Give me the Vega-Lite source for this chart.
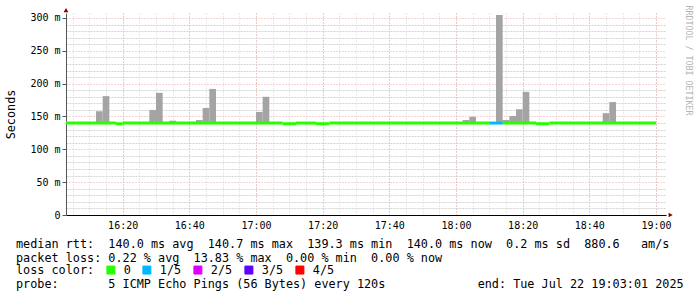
{
  "$schema": "https://vega.github.io/schema/vega-lite/v6.json",
  "width": 600,
  "height": 202,
  "autosize": {"type": "none"},
  "padding": {"left": 66, "top": 13, "right": 31, "bottom": 82},
  "background": "white",
  "config": {"view": {"stroke": null}},
  "title": {
    "text": [
      "median rtt:\u00a0 140.0 ms avg\u00a0 140.7 ms max\u00a0 139.3 ms min\u00a0 140.0 ms now\u00a0 0.2 ms sd\u00a0 880.6\u00a0\u00a0 am/s",
      "packet loss: 0.22 % avg\u00a0 13.83 % max\u00a0 0.00 % min\u00a0 0.00 % now"
    ],
    "subtitle": "probe:\u00a0\u00a0\u00a0\u00a0\u00a0\u00a0 5 ICMP Echo Pings (56 Bytes) every 120s\u00a0\u00a0\u00a0\u00a0\u00a0\u00a0\u00a0\u00a0\u00a0\u00a0\u00a0\u00a0 end: Tue Jul 22 19:03:01 2025",
    "orient": "bottom",
    "anchor": "start",
    "frame": "group",
    "dx": -50,
    "offset": -38,
    "baseline": "top",
    "font": "DejaVu Sans Mono",
    "fontSize": 11.8,
    "fontWeight": "normal",
    "lineHeight": 13.7,
    "color": "black",
    "subtitleFont": "DejaVu Sans Mono",
    "subtitleFontSize": 11.8,
    "subtitleFontWeight": "normal",
    "subtitleColor": "black",
    "subtitleLineHeight": 13.7,
    "subtitlePadding": 14
  },
  "datasets": {
    "smoke": [
      {"t0": 12, "t1": 14, "min": 139.5, "max": 158},
      {"t0": 14, "t1": 16, "min": 139.5, "max": 181},
      {"t0": 28, "t1": 30, "min": 139.5, "max": 160},
      {"t0": 30, "t1": 32, "min": 139.5, "max": 186},
      {"t0": 34, "t1": 36, "min": 139.5, "max": 143.6},
      {"t0": 42, "t1": 44, "min": 139.5, "max": 144.6},
      {"t0": 44, "t1": 46, "min": 139.5, "max": 163},
      {"t0": 46, "t1": 48, "min": 139.5, "max": 192},
      {"t0": 60, "t1": 62, "min": 139.5, "max": 157},
      {"t0": 62, "t1": 64, "min": 139.5, "max": 180},
      {"t0": 122, "t1": 124, "min": 139.5, "max": 144.6},
      {"t0": 124, "t1": 126, "min": 139.5, "max": 149.5},
      {"t0": 132, "t1": 134, "min": 139.5, "max": 304.6},
      {"t0": 134, "t1": 136, "min": 139.5, "max": 144.6},
      {"t0": 136, "t1": 138, "min": 139.5, "max": 150.7},
      {"t0": 138, "t1": 140, "min": 139.5, "max": 161},
      {"t0": 140, "t1": 142, "min": 139.5, "max": 187.5},
      {"t0": 164, "t1": 166, "min": 139.5, "max": 155},
      {"t0": 166, "t1": 168, "min": 139.5, "max": 172}
    ],
    "median": [
      {"t0": 3, "t1": 18, "rtt": 140.0, "loss": "0"},
      {"t0": 18, "t1": 20, "rtt": 139.0, "loss": "0"},
      {"t0": 20, "t1": 68, "rtt": 140.0, "loss": "0"},
      {"t0": 68, "t1": 72, "rtt": 139.0, "loss": "0"},
      {"t0": 72, "t1": 78, "rtt": 140.0, "loss": "0"},
      {"t0": 78, "t1": 82, "rtt": 139.0, "loss": "0"},
      {"t0": 82, "t1": 130, "rtt": 140.0, "loss": "0"},
      {"t0": 130, "t1": 134, "rtt": 140.0, "loss": "1/5"},
      {"t0": 134, "t1": 144, "rtt": 140.0, "loss": "0"},
      {"t0": 144, "t1": 148, "rtt": 139.0, "loss": "0"},
      {"t0": 148, "t1": 180, "rtt": 140.0, "loss": "0"}
    ]
  },
  "resolve": {"axis": {"x": "independent", "y": "independent"}},
  "layer": [
    {
      "data": {"name": "smoke"},
      "mark": {"type": "rect", "color": "#a4a4a4"},
      "encoding": {
        "x": {
          "field": "t0", "type": "quantitative",
          "scale": {"domain": [3, 183], "nice": false, "zero": false},
          "axis": {"orient": "bottom", "values": [5,10,15,20,25,30,35,40,45,50,55,60,65,70,75,80,85,90,95,100,105,110,115,120,125,130,135,140,145,150,155,160,165,170,175,180],
            "labels": false, "ticks": false, "domain": false, "title": null,
            "grid": true, "gridColor": "#d4d4d4", "gridDash": [1, 2], "gridWidth": 1}
        },
        "x2": {"field": "t1"},
        "y": {
          "field": "max", "type": "quantitative",
          "scale": {"domain": [0, 307.6], "nice": false, "zero": true},
          "axis": {"orient": "left", "values": [10,20,30,40,60,70,80,90,110,120,130,140,160,170,180,190,210,220,230,240,260,270,280,290],
            "labels": false, "ticks": false, "domain": false, "title": null,
            "grid": true, "gridColor": "#d4d4d4", "gridDash": [2, 1], "gridWidth": 1}
        },
        "y2": {"field": "min"}
      }
    },
    {
      "data": {"name": "median"},
      "mark": {"type": "rule", "strokeWidth": 3, "strokeCap": "butt"},
      "encoding": {
        "x": {
          "field": "t0", "type": "quantitative",
          "axis": {"orient": "bottom", "values": [20,40,60,80,100,120,140,160,180],
            "labels": false, "ticks": false, "domain": false, "title": null,
            "grid": true, "gridColor": "#eaa8a8", "gridDash": [1, 2], "gridWidth": 1}
        },
        "x2": {"field": "t1"},
        "y": {
          "field": "rtt", "type": "quantitative",
          "axis": {"orient": "left", "values": [50,100,150,200,250,300],
            "labels": false, "ticks": false, "domain": false, "title": null,
            "grid": true, "gridColor": "#eaa8a8", "gridDash": [1, 2], "gridWidth": 1}
        },
        "color": {
          "field": "loss", "type": "nominal",
          "scale": {"domain": ["0", "1/5", "2/5", "3/5", "4/5"], "range": ["#26ff00", "#00b8ff", "#dd00ff", "#5e00ff", "#ff0000"]},
          "legend": {
            "orient": "none", "legendX": -50, "legendY": 251,
            "direction": "horizontal", "title": "loss color:", "titleOrient": "left",
            "titleFont": "DejaVu Sans Mono", "titleFontSize": 11.8, "titleFontWeight": "normal", "titleColor": "black",
            "titlePadding": 10, "titleBaseline": "middle",
            "labelFont": "DejaVu Sans Mono", "labelFontSize": 11.8, "labelColor": "black",
            "labelOffset": 7, "columnPadding": 9,
            "symbolType": "square", "symbolSize": 64, "symbolStrokeColor": "black", "symbolStrokeWidth": 1,
            "encode": {"symbols": {"update": {"fill": {"scale": "color", "field": "value"}, "stroke": {"value": "black"}, "strokeWidth": {"value": 1}, "opacity": {"value": 1}}}}
          }
        }
      }
    },
    {
      "data": {"values": [{}]},
      "mark": {"type": "point", "shape": "triangle-up", "filled": true, "size": 22, "color": "#800000", "opacity": 1},
      "encoding": {
        "x": {
          "datum": 3, "type": "quantitative",
          "axis": {"orient": "bottom", "values": [20,40,60,80,100,120,140,160,180],
            "labelExpr": "floor((960 + datum.value) / 60) + ':' + ((960 + datum.value) % 60 < 10 ? '0' : '') + ((960 + datum.value) % 60)",
            "grid": false, "domain": true, "domainColor": "black", "domainWidth": 1,
            "ticks": false, "labelPadding": 5, "labelFlush": false,
            "labelFont": "DejaVu Sans Mono", "labelFontSize": 10, "labelColor": "black", "title": null}
        },
        "y": {
          "datum": 312, "type": "quantitative",
          "axis": {"orient": "left", "values": [0,50,100,150,200,250,300],
            "labelExpr": "datum.value == 0 ? '0' : datum.value + ' m'",
            "grid": false, "domain": true, "domainColor": "#555555", "domainWidth": 1,
            "ticks": true, "tickSize": 4, "tickColor": "#555555", "labelPadding": 2,
            "labelFont": "DejaVu Sans Mono", "labelFontSize": 10, "labelColor": "black",
            "title": "Seconds", "titleFont": "DejaVu Sans Mono", "titleFontSize": 11.8, "titleFontWeight": "normal",
            "titleColor": "black", "titleAngle": 270, "titleX": -56, "titleY": 101, "titleAlign": "center", "titleBaseline": "middle"}
        }
      }
    },
    {
      "data": {"values": [{}]},
      "mark": {"type": "point", "shape": "triangle-right", "filled": true, "size": 22, "color": "#800000", "opacity": 1},
      "encoding": {
        "x": {"datum": 184.4, "type": "quantitative", "axis": null},
        "y": {
          "datum": 0, "type": "quantitative",
          "axis": {"orient": "right", "labels": false, "ticks": false, "domain": false, "grid": false,
            "title": "RRDTOOL / TOBI OETIKER", "titleFont": "DejaVu Sans Mono", "titleFontSize": 8.3, "titleFontWeight": "normal",
            "titleColor": "#b4b4b4", "titleAngle": 90, "titleAlign": "left", "titleBaseline": "middle", "titleX": 21, "titleY": -8}
        }
      }
    }
  ]
}
